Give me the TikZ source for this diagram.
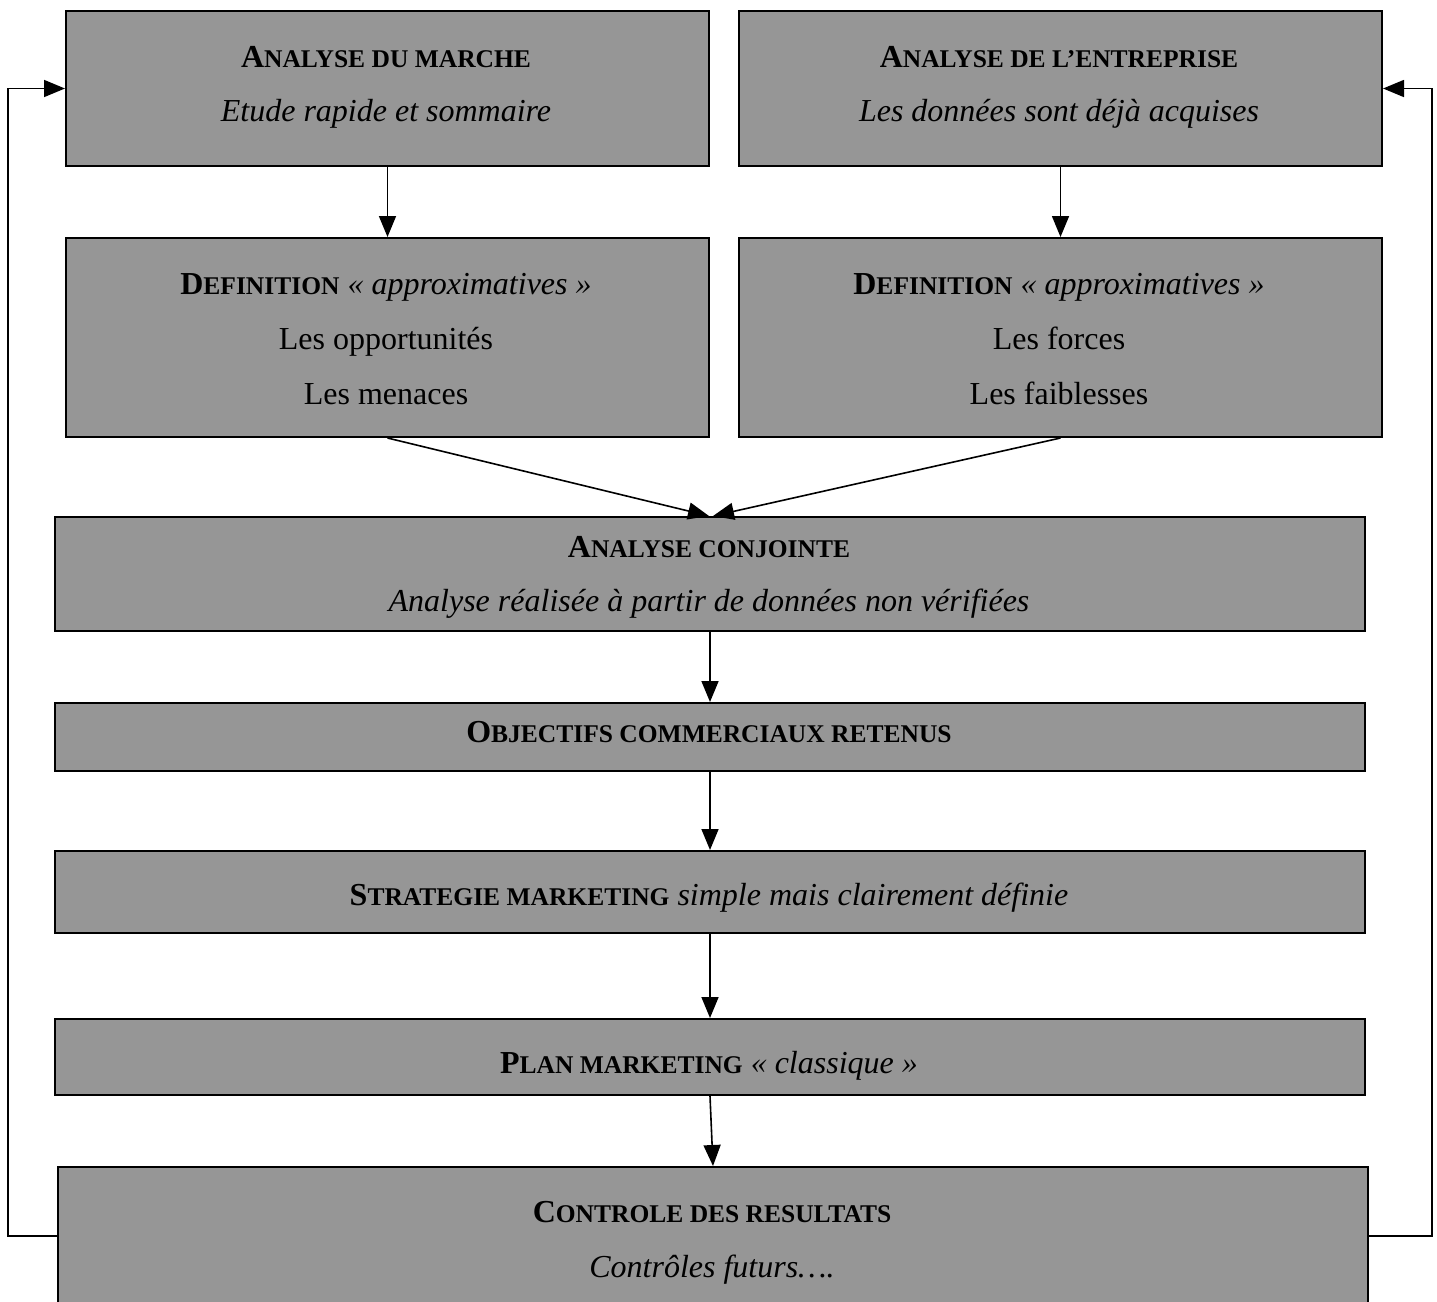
\documentclass[tikz,border=0pt]{standalone}
\usepackage{fontspec}
\setmainfont{Liberation Serif}
\usetikzlibrary{arrows.meta,calc}
\definecolor{boxgray}{RGB}{150,150,150}

% bold "small caps": full-size initial, reduced capitals for the rest
\newcommand\bsc[2]{{\bfseries\fontsize{32}{38}\selectfont #1\fontsize{25.5}{30}\selectfont #2}}

\tikzset{
  box/.style={draw=black, line width=2pt, fill=boxgray, inner sep=0pt,
              anchor=north west},
  link/.style={line width=1.6pt, -{Triangle[length=21pt,width=17pt]}},
  txt/.style={inner sep=0pt, anchor=base, font=\fontsize{32}{38}\selectfont},
}

\begin{document}
\begin{tikzpicture}[x=1pt,y=-1pt]
\path[use as bounding box, fill=white] (0,0) rectangle (1437,1301);
\clip (0,0) rectangle (1437,1301);

% boxes
\node[box, minimum width=643pt, minimum height=155pt] (a1) at (65,10) {};
\node[box, minimum width=643pt, minimum height=155pt] (a2) at (738,10) {};
\node[box, minimum width=643pt, minimum height=199pt] (d1) at (65,237) {};
\node[box, minimum width=643pt, minimum height=199pt] (d2) at (738,237) {};
\node[box, minimum width=1310pt, minimum height=114pt] (c) at (54,516) {};
\node[box, minimum width=1310pt, minimum height=68pt] (o) at (54,702) {};
\node[box, minimum width=1310pt, minimum height=82pt] (s) at (54,850) {};
\node[box, minimum width=1310pt, minimum height=76pt] (p) at (54,1018) {};
\node[box, minimum width=1310pt, minimum height=160pt] (r) at (57,1166) {};

% texts (placed on their baselines)
\node[txt] (a1t) at (386,67) {\bsc{A}{NALYSE DU MARCHE}};
\node[txt] (a1s) at (386,121) {\textit{Etude rapide et sommaire}};
\node[txt] (a2t) at (1059,67) {\bsc{A}{NALYSE DE L’ENTREPRISE}};
\node[txt] (a2s) at (1059,121) {\textit{Les données sont déjà acquises}};

\node[txt] (d1t) at (386,294) {\bsc{D}{EFINITION} \textit{« approximatives »}};
\node[txt] (d1a) at (386,349) {Les opportunités};
\node[txt] (d1b) at (386,404) {Les menaces};
\node[txt] (d2t) at (1059,294) {\bsc{D}{EFINITION} \textit{« approximatives »}};
\node[txt] (d2a) at (1059,349) {Les forces};
\node[txt] (d2b) at (1059,404) {Les faiblesses};

\node[txt] (ct) at (709,557) {\bsc{A}{NALYSE CONJOINTE}};
\node[txt] (cs) at (709,611) {\textit{Analyse réalisée à partir de données non vérifiées}};
\node[txt] (ot) at (709,742) {\bsc{O}{BJECTIFS COMMERCIAUX RETENUS}};
\node[txt] (st) at (709,905) {\bsc{S}{TRATEGIE MARKETING} \textit{simple mais clairement définie}};
\node[txt] (pt) at (709,1073) {\bsc{P}{LAN MARKETING} \textit{« classique »}};
\node[txt] (rt) at (712,1222) {\bsc{C}{ONTROLE DES RESULTATS}};
\node[txt] (rs) at (712,1277) {\textit{Contrôles futurs….}};

% flow
\draw[link] (a1.south) -- (a1.south |- d1.north);
\draw[link] (a2.south) -- (a2.south |- d2.north);
\draw[link] (d1.south) -- ($(c.north)+(-1,0)$);
\draw[link] (d2.south) -- ($(c.north)+(3,0)$);
\draw[link] (c.south) -- (c.south |- o.north);
\draw[link] (o.south) -- (o.south |- s.north);
\draw[link] (s.south) -- (s.south |- p.north);
\draw[link] (p.south) -- (r.north);

% feedback loops
\coordinate (rl) at ($(r.north west)+(0,70)$);
\coordinate (rr) at ($(r.north east)+(0,70)$);
\draw[link] (rl) -- (8,0 |- rl) -- (8,0 |- a1.west) -- (a1.west);
\draw[link] (rr) -- (1432,0 |- rr) -- (1432,0 |- a2.east) -- (a2.east);
\end{tikzpicture}
\end{document}
